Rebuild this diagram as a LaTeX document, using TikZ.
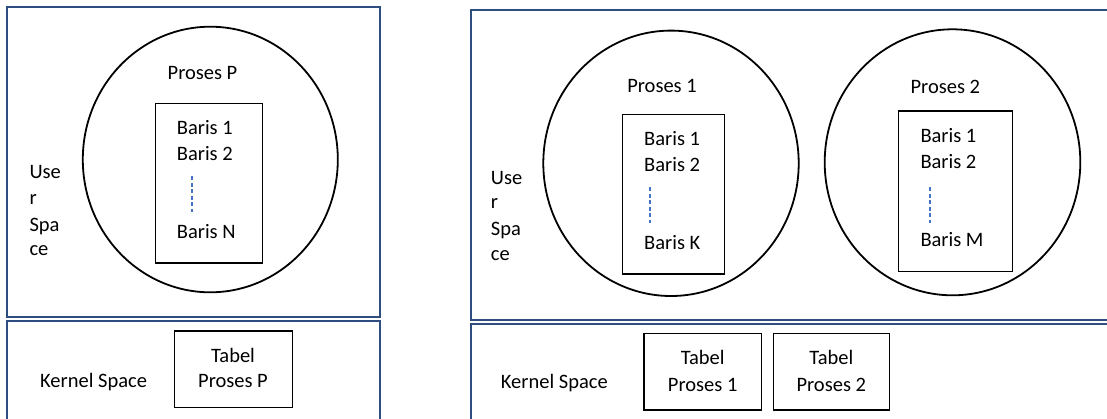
\documentclass[tikz,border=0pt]{standalone}
\usepackage{fontspec}
\setmainfont{Carlito}
\definecolor{panelblue}{HTML}{2D4E7E}
\definecolor{dashblue}{HTML}{4472C4}
\begin{document}
\begin{tikzpicture}[x=1pt,y=-1pt,
  font=\fontsize{20.5}{26}\selectfont,
  panel/.style={draw=panelblue, line width=2.1pt},
  proc/.style={draw=black, line width=1.8pt},
  listbox/.style={draw=black, line width=1.3pt},
  lbl/.style={inner sep=0pt, anchor=west},
  clbl/.style={inner sep=0pt},
  dots/.style={draw=dashblue, line width=1.7pt, dash pattern=on 4pt off 2.5pt}]
\clip (0,0) rectangle (1107,418);
\fill[white] (0,0) rectangle (1107,418);

% ---------- left panel ----------
\draw[panel] (7.3,7) rectangle (380,317);
\draw[panel] (7.3,321) rectangle (380,430);
\draw[proc] (210.3,159.5) ellipse [x radius=127.5, y radius=132.8];
\draw[listbox] (155.7,103.7) rectangle (262.7,263);
\node[clbl] (ppL) at (202.5,73) {Proses P};
\node[lbl] (bL1) at (176.7,128) {Baris 1};
\node[lbl] (bL2) at (176.7,154) {Baris 2};
\coordinate (dLa) at (192,176);
\coordinate (dLb) at (192,212);
\draw[dots] (dLa) -- (dLb);
\node[lbl] (bLN) at (176.7,232) {Baris N};
\node[lbl] (uL1) at (29.3,172) {Use};
\node[lbl] (uL2) at (29.3,200) {r};
\node[lbl] (uL3) at (29.3,226) {Spa};
\node[lbl] (uL4) at (29.3,251) {ce};
\node[lbl] (kL) at (40,382) {Kernel Space};
\draw[listbox] (174.3,331) rectangle (292.3,407.3);
\node[clbl] (tL1) at (233,355) {Tabel};
\node[clbl] (tL2) at (233,381) {Proses P};

% ---------- right panel ----------
\draw[panel] (470.7,10) rectangle (1120,319.8);
\draw[panel] (470.7,323.8) rectangle (1120,430);
\draw[proc] (671,163.3) ellipse [x radius=127.7, y radius=132.7];
\draw[proc] (952.5,162.3) ellipse [x radius=127.8, y radius=133];

\draw[listbox] (622.7,114.3) rectangle (724.3,274);
\node[clbl] (p1) at (662,86) {Proses 1};
\node[lbl] (bA1) at (644,138.7) {Baris 1};
\node[lbl] (bA2) at (644,164.3) {Baris 2};
\coordinate (dAa) at (650,187.3);
\coordinate (dAb) at (650,222.7);
\draw[dots] (dAa) -- (dAb);
\node[lbl] (bAK) at (644,242.3) {Baris K};

\draw[listbox] (898.7,111) rectangle (1012.3,271.3);
\node[clbl] (p2) at (945.3,86.7) {Proses 2};
\node[lbl] (bB1) at (920.3,135.3) {Baris 1};
\node[lbl] (bB2) at (920.3,161.7) {Baris 2};
\coordinate (dBa) at (930.3,187.3);
\coordinate (dBb) at (930.3,223.3);
\draw[dots] (dBa) -- (dBb);
\node[lbl] (bBM) at (920.3,239.3) {Baris M};

\node[lbl] (uR1) at (490.7,177.7) {Use};
\node[lbl] (uR2) at (490.7,204) {r};
\node[lbl] (uR3) at (490.7,230) {Spa};
\node[lbl] (uR4) at (490.7,256) {ce};
\node[lbl] (kR) at (500.7,382.7) {Kernel Space};

\draw[listbox] (644,333.3) rectangle (761.7,410);
\node[clbl] (tA1) at (702.7,357.3) {Tabel};
\node[clbl] (tA2) at (702.7,385) {Proses 1};
\draw[listbox] (773.3,333.3) rectangle (889.7,410);
\node[clbl] (tB1) at (831.3,357.3) {Tabel};
\node[clbl] (tB2) at (831.3,385) {Proses 2};
\end{tikzpicture}
\end{document}
